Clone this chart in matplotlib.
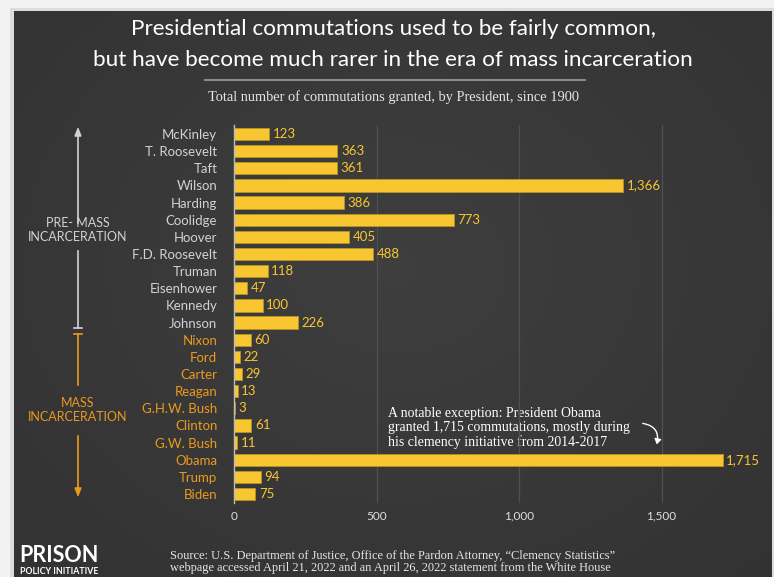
import numpy as np
import matplotlib
matplotlib.use("Agg")
import matplotlib.pyplot as plt
from matplotlib.patches import FancyArrowPatch

presidents = ["McKinley", "T. Roosevelt", "Taft", "Wilson", "Harding", "Coolidge",
              "Hoover", "F.D. Roosevelt", "Truman", "Eisenhower", "Kennedy", "Johnson",
              "Nixon", "Ford", "Carter", "Reagan", "G.H.W. Bush", "Clinton", "G.W. Bush",
              "Obama", "Trump", "Biden"]
commutations = [123, 363, 361, 1366, 386, 773, 405, 488, 118, 47, 100, 226,
                60, 22, 29, 13, 3, 61, 11, 1715, 94, 75]
n_pre = 12
xticks = [0, 500, 1000, 1500]
xtick_labels = ["0", "500", "1,000", "1,500"]

W, H = 774, 577
fig = plt.figure(figsize=(W / 100, H / 100), dpi=100)
fig.patch.set_facecolor("#f2f2f2")

SANS = ["Lato", "DejaVu Sans"]
SERIF = ["Liberation Serif", "DejaVu Serif"]
GRAY = "#d2d2d2"
ORANGE = "#eb9a1e"
YELLOW = "#f7c631"

# background panel with soft radial gradient
bg = fig.add_axes([0, 0, 1, 1])
bg.set_xlim(0, W)
bg.set_ylim(H, 0)
bg.axis("off")
yy, xx = np.mgrid[0:H, 0:W]
r = np.sqrt(((xx - 390) / 520.0) ** 2 + ((yy - 260) / 420.0) ** 2)
val = np.clip(0.245 - 0.045 * r, 0.19, 0.25)
img = np.dstack([val, val, val])
bg.imshow(img, extent=[14, 772, H, 11], zorder=0, aspect="auto")
bg.add_patch(plt.Rectangle((10, 8), 766, 580, facecolor="#dcdcdc", edgecolor="none", zorder=-1))

# titles
bg.text(393, 29, "Presidential commutations used to be fairly common,", color="white",
        fontsize=16.2, ha="center", va="center", family=SANS)
bg.text(393, 60, "but have become much rarer in the era of mass incarceration", color="white",
        fontsize=16.2, ha="center", va="center", family=SANS)
bg.plot([205, 585], [80, 80], color="#8a8a8a", lw=1.5)
bg.text(393, 97, "Total number of commutations granted, by President, since 1900", color="#e6e6e6",
        fontsize=10.4, ha="center", va="center", family=SERIF)

# main axes
px_per = 142.5 / 500.0
x0 = 234
xmax = 1800
ax_left = x0 / W
ax_w = xmax * px_per / W
sp = (494 - 134) / 21.0
top = 134 - sp / 2
bottom = 494 + sp / 2
ax = fig.add_axes([ax_left, 1 - bottom / H, ax_w, (bottom - top) / H])
ax.patch.set_alpha(0)
y = np.arange(len(presidents))
ax.barh(y, commutations, height=0.72, color=YELLOW, edgecolor="#b89420", linewidth=0.6, zorder=3)
ax.set_ylim(len(presidents) - 0.5, -0.5)
ax.set_xlim(0, xmax)
for s in ["top", "right", "bottom"]:
    ax.spines[s].set_visible(False)
ax.spines["left"].set_color("#bdbdbd")
ax.spines["left"].set_linewidth(1.0)
ax.spines["left"].set_zorder(4)
for t in xticks[1:]:
    ax.axvline(t, color="#505050", lw=0.9, zorder=1)
ax.set_xticks(xticks)
ax.set_xticklabels(xtick_labels, family=SANS, fontsize=8.5, color="#e0e0e0")
ax.tick_params(axis="x", length=0, pad=6)
ax.set_yticks(y)
ax.set_yticklabels(presidents, family=SANS, fontsize=9.5)
ax.tick_params(axis="y", length=0, pad=12)
for i, lab in enumerate(ax.get_yticklabels()):
    lab.set_color(GRAY if i < n_pre else ORANGE)
for i, v in enumerate(commutations):
    ax.text(v + 12, i, f"{v:,}", va="center", ha="left", color=YELLOW,
            fontsize=9.5, family=SANS, zorder=5)

# left-side era annotations
bg.annotate("", xy=(78, 124), xytext=(78, 226),
            arrowprops=dict(arrowstyle="-|>,head_length=0.5,head_width=0.2", color=GRAY, lw=1.2))
bg.text(78, 230, "PRE- MASS\nINCARCERATION", color=GRAY, fontsize=9, ha="center", va="center",
        family=SANS, linespacing=1.25)
bg.plot([78, 78], [251, 328], color=GRAY, lw=1.2)
bg.plot([74, 82], [328, 328], color=GRAY, lw=1.2)
bg.plot([78, 78], [334, 385], color=ORANGE, lw=1.2)
bg.plot([74, 82], [334, 334], color=ORANGE, lw=1.2)
bg.text(78, 410, "MASS\nINCARCERATION", color=ORANGE, fontsize=9, ha="center", va="center",
        family=SANS, linespacing=1.25)
bg.annotate("", xy=(78, 500), xytext=(78, 433),
            arrowprops=dict(arrowstyle="-|>,head_length=0.5,head_width=0.2", color=ORANGE, lw=1.2))

# Obama annotation
bg.text(388, 428, "A notable exception: President Obama\ngranted 1,715 commutations, mostly during\nhis clemency initiative from 2014-2017",
        color="white", fontsize=9.9, ha="left", va="center", family=SERIF, linespacing=1.12)
arr = FancyArrowPatch((640, 423), (656, 447), connectionstyle="arc3,rad=-0.6",
                      arrowstyle="-|>,head_length=3,head_width=2", color="white", lw=1.0)
bg.add_patch(arr)

# footer
bg.text(19, 555, "PRISON", color="white", fontsize=15.5, ha="left", va="center",
        family=SANS, fontweight="bold")
bg.text(20, 571, "POLICY INITIATIVE", color="white", fontsize=6.3, ha="left", va="center",
        family=SANS, fontweight="bold")
bg.text(170, 562, "Source: U.S. Department of Justice, Office of the Pardon Attorney, \u201cClemency Statistics\u201d\nwebpage accessed April 21, 2022 and an April 26, 2022 statement from the White House",
        color="#e6e6e6", fontsize=8.9, ha="left", va="center", family=SERIF, linespacing=0.95)

fig.savefig("out.png", dpi=100, facecolor=fig.get_facecolor())
